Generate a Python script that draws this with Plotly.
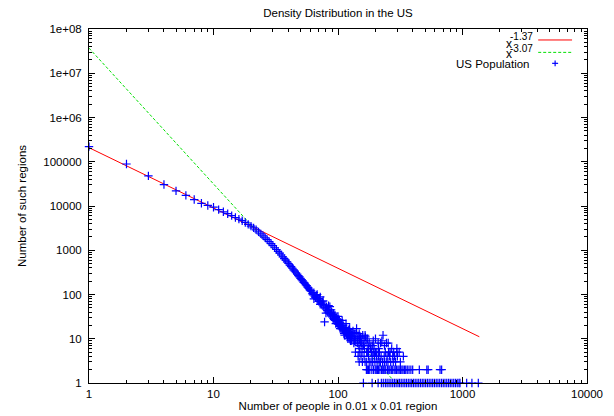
import plotly.graph_objects as go

# counts for the smooth head of the distribution (x = 1..60)
head_x = list(range(1, 61))
head_y = [220000, 89000, 48000, 30500, 22000, 17400, 14000, 11500, 10300, 9400,
          8300, 7400, 6700, 6050, 5500, 5050, 4650, 4250, 3850, 3500,
          3200, 2900, 2600, 2350, 2120, 1910, 1730, 1560, 1410, 1270,
          1140, 1040, 945, 860, 780, 712, 650, 598, 548, 502,
          462, 426, 392, 362, 336, 310, 290, 268, 250, 232,
          216, 204, 188, 180, 166, 158, 146, 140, 128, 122]

# noisy middle part
cloud_x = [61, 62, 63, 64, 65, 66, 67, 68, 69, 70, 71, 72, 73, 74, 75, 76, 77, 78, 79, 80,
           81, 82, 83, 84, 85, 86, 87, 88, 89, 90, 91, 92, 93, 94, 95, 96, 97, 98, 99, 100,
           101, 102, 103, 104, 105, 106, 107, 108, 109, 110, 111, 112, 113, 114, 115, 116, 117, 118, 119, 120,
           121, 122, 123, 124, 125, 126, 127, 128, 129, 130, 132, 134, 135, 137, 139, 141, 143, 145, 147, 149,
           150, 152, 155, 158, 160, 163, 165, 168, 170, 174, 178, 182, 186, 190, 195, 200, 210, 220, 225, 230,
           245, 253, 270, 297, 310,
           64, 68, 72, 76, 80, 84, 88, 92, 96, 100, 104, 108, 112, 116, 120, 124, 128, 132, 136, 140,
           144, 148, 152, 156, 162, 166, 172, 176, 184, 192, 200, 212, 236, 255, 285]
cloud_y = [120, 104, 98, 110, 92, 85, 95, 78, 82, 70, 75, 88, 64, 60, 68, 55, 58, 24, 50, 47,
           52, 43, 40, 45, 38, 53, 36, 33, 40, 31, 35, 29, 27, 33, 26, 30, 24, 28, 22, 25,
           21, 27, 19, 23, 20, 17, 22, 18, 16, 20, 15, 17, 12, 16, 14, 18, 13, 15, 11, 14,
           12, 16, 10, 13, 11, 9, 14, 10, 9, 12, 11, 8, 13, 10, 9, 17, 8, 11, 7, 10,
           6, 9, 8, 12, 7, 6, 12, 9, 5, 7, 8, 6, 5, 7, 6, 5, 8, 8, 9, 12,
           8, 8, 6, 6, 5,
           80, 100, 60, 72, 38, 56, 45, 38, 22, 32, 17, 26, 13, 22, 10, 17, 12, 15, 9, 14,
           10, 13, 11, 7, 9, 11, 10, 6, 7, 9, 10, 6, 7, 5, 4]

# tail rows with small counts
fives_x = [138, 148, 156, 172, 185, 192, 205, 215, 240, 262, 280, 297]
fours_x = [145, 153, 162, 176, 188, 196, 204, 212, 222, 235, 248, 260, 275, 300, 335]
threes_x = [148, 157, 165, 170, 178, 184, 190, 198, 206, 214, 219, 228, 236, 244, 252,
            265, 278, 290, 317]
twos_x = [169, 172, 176, 180, 187, 193, 199, 203, 208, 211, 217, 224, 229, 233, 238,
          242, 250, 256, 261, 268, 273, 282, 288, 295, 303, 310, 318, 326, 333, 342,
          350, 360, 372, 385, 398, 450, 517, 530, 660, 680]
ones_x = [160, 188, 210, 223, 231, 240, 248, 257, 266, 275, 284, 293, 303, 312, 322,
          333, 344, 355, 367, 379, 391, 404, 417, 431, 445, 460, 475, 490, 506, 523,
          540, 558, 576, 595, 615, 635, 656, 678, 700, 723, 747, 772, 797, 823, 850,
          878, 907, 937, 955, 1080, 1190, 1340]

# fitted power laws (end points)
fit1_x = [1, 1365]
fit1_y = [208000, 11.1]
fit2_x = [1, 275]
fit2_y = [37000000, 1.2]

x_ticks = [1, 10, 100, 1000, 10000]
x_labels = ["1", "10", "100", "1000", "10000"]
y_ticks = [1, 10, 100, 1000, 10000, 100000, 1e6, 1e7, 1e8]
y_labels = ["1", "10", "100", "1000", "10000", "100000", "1e+06", "1e+07", "1e+08"]

all_x = head_x + cloud_x + fives_x + fours_x + threes_x + twos_x + ones_x
all_y = (head_y + cloud_y + [5] * len(fives_x) + [4] * len(fours_x)
         + [3] * len(threes_x) + [2] * len(twos_x) + [1] * len(ones_x))

FONT = "Liberation Sans, Arial, sans-serif"
GREEN = "#00e000"
BLACK = "black"

fig = go.Figure()
fig.add_trace(go.Scatter(x=fit1_x, y=fit1_y, mode="lines",
                         line=dict(color="#ff0000", width=1), showlegend=False))
fig.add_trace(go.Scatter(x=fit2_x, y=fit2_y, mode="lines",
                         line=dict(color=GREEN, width=1, dash="3px,2px"), showlegend=False))
fig.add_trace(go.Scatter(x=all_x, y=all_y, mode="markers", cliponaxis=False,
                         marker=dict(symbol="cross-thin", size=6, color="#0000ff",
                                     line=dict(color="#0000ff", width=1.2)),
                         showlegend=False))

minor_x = [m * d for d in [1, 10, 100, 1000] for m in range(2, 10)]
minor_y = [m * d for d in [1, 10, 100, 1000, 1e4, 1e5, 1e6, 1e7] for m in range(2, 10)]

axis_common = dict(type="log", showgrid=False, zeroline=False, showline=True,
                   linecolor=BLACK, linewidth=1, mirror="allticks",
                   ticks="inside", ticklen=6, tickcolor=BLACK, automargin=False,
                   tickfont=dict(family=FONT, size=11.5, color=BLACK))

fig.update_xaxes(range=[0, 4], tickvals=x_ticks, ticktext=x_labels,
                 minor=dict(tickvals=minor_x, ticks="inside", ticklen=3, tickcolor=BLACK),
                 title=dict(text="Number of people in 0.01 x 0.01 region",
                            font=dict(family=FONT, size=11.5, color=BLACK), standoff=2),
                 **axis_common)
fig.update_yaxes(range=[0, 8], tickvals=y_ticks, ticktext=y_labels, ticklabelstandoff=4,
                 minor=dict(tickvals=minor_y, ticks="inside", ticklen=3, tickcolor=BLACK),
                 title=dict(text="Number of such regions",
                            font=dict(family=FONT, size=11.5, color=BLACK), standoff=14),
                 **axis_common)

# gnuplot style key: text on the left, sample on the right
def key_text(txt, x, y, size, anchor):
    fig.add_annotation(xref="paper", yref="paper", x=x, y=y, text=txt,
                       showarrow=False, xanchor=anchor, yanchor="middle",
                       xshift=0, borderpad=0,
                       font=dict(family=FONT, size=size, color=BLACK))

key_text("x", 0.851, 0.959, 12, "right")
key_text("-1.37", 0.844, 0.978, 10, "left")
key_text("x", 0.851, 0.928, 12, "right")
key_text("-3.07", 0.844, 0.946, 10, "left")
key_text("US Population", 0.888, 0.902, 11.5, "right")

fig.add_shape(type="line", xref="paper", yref="paper", x0=0.902, x1=0.970, y0=0.969, y1=0.969,
              line=dict(color="#ff0000", width=1))
fig.add_shape(type="line", xref="paper", yref="paper", x0=0.902, x1=0.970, y0=0.934, y1=0.934,
              line=dict(color=GREEN, width=1, dash="3px,2px"))
# small blue "+" sample
fig.add_shape(type="line", xref="paper", yref="paper", x0=0.930, x1=0.942, y0=0.903, y1=0.903,
              line=dict(color="#0000ff", width=1.2))
fig.add_shape(type="line", xref="paper", yref="paper", x0=0.936, x1=0.936, y0=0.895, y1=0.911,
              line=dict(color="#0000ff", width=1.2))

# the page body adds an 8px offset, so the figure is 8px smaller and margins shifted
fig.update_layout(
    width=606, height=408,
    margin=dict(l=81, r=27, t=21, b=33, autoexpand=False),
    paper_bgcolor="white", plot_bgcolor="white",
    title=dict(text="Density Distribution in the US", x=(81 + 498 / 2) / 606, xanchor="center",
               y=1 - 4.5 / 408, yanchor="middle",
               font=dict(family=FONT, size=11.5, color=BLACK)),
)

fig.write_html("out.html")
